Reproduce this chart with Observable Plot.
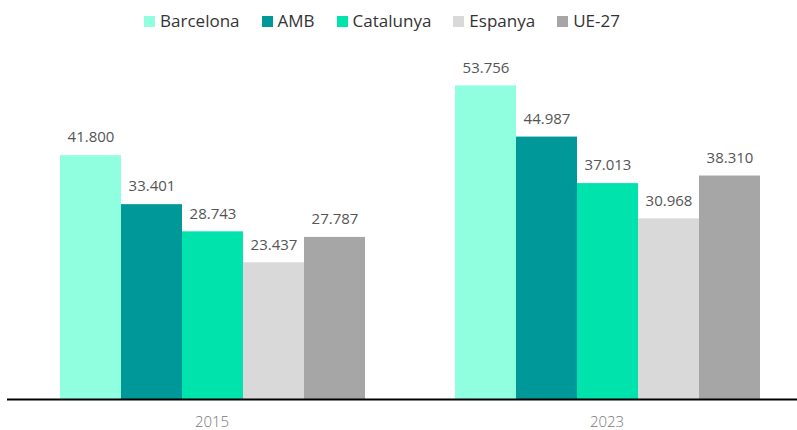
<!DOCTYPE html>
<html><head><meta charset="utf-8">
<script src="https://cdn.jsdelivr.net/npm/d3@7"></script>
<script src="https://cdn.jsdelivr.net/npm/@observablehq/plot@0.6"></script>
<style>
body{margin:0;background:#fff;font-family:"Open Sans",sans-serif;}
#legend{height:40px;display:flex;justify-content:center;align-items:center;gap:22px;font-size:17px;color:#333;padding-right:33px;box-sizing:border-box;padding-top:0px}
#legend span.sw{display:inline-block;width:11px;height:11px;margin-right:5px;vertical-align:0px}
</style></head>
<body>
<div id="legend"></div>
<div id="chart"></div>
<script>
const years = ["2015", "2023"];
const series = ["Barcelona", "AMB", "Catalunya", "Espanya", "UE-27"];
const values2015 = [41800, 33401, 28743, 23437, 27787];
const values2023 = [53756, 44987, 37013, 30968, 38310];
const colors = ["#8fffe0", "#009898", "#00e3ad", "#d9d9d9", "#a6a6a6"];

const data = [];
years.forEach((y, i) => {
  const vals = i === 0 ? values2015 : values2023;
  series.forEach((s, j) => data.push({year: y, series: s, value: vals[j]}));
});
const fmt = d3.formatLocale({decimal: ",", thousands: ".", grouping: [3], currency: ["", "€"]}).format(",d");

const leg = document.getElementById("legend");
series.forEach((s, j) => {
  const d = document.createElement("div");
  d.innerHTML = `<span class="sw" style="background:${colors[j]}"></span>${s}`;
  leg.appendChild(d);
});

const chart = Plot.plot({
  width: 797,
  height: 390,
  marginLeft: 7,
  marginRight: 0,
  marginTop: 9,
  marginBottom: 31,
  style: {fontFamily: "'Open Sans', sans-serif"},
  fx: {domain: years, paddingInner: 0, paddingOuter: 0, label: null},
  x: {domain: series, paddingInner: 0, paddingOuter: 0.716, align: 0.585, axis: null},
  y: {domain: [0, 60000], axis: null},
  color: {domain: series, range: colors},
  marks: [
    Plot.barY(data, {fx: "year", x: "series", y: "value", fill: "series"}),
    Plot.text(data, {fx: "year", x: "series", y: "value", text: d => fmt(d.value), dy: -18, fontSize: 15, fill: "#555"}),
    Plot.ruleY([0], {stroke: "#000", strokeWidth: 2}),
    Plot.axisFx({anchor: "bottom", tickSize: 0, tickPadding: 17, dx: 7, fontSize: 15, fontWeight: 300, color: "#777", label: null})
  ]
});
document.getElementById("chart").appendChild(chart);
</script>
</body></html>
